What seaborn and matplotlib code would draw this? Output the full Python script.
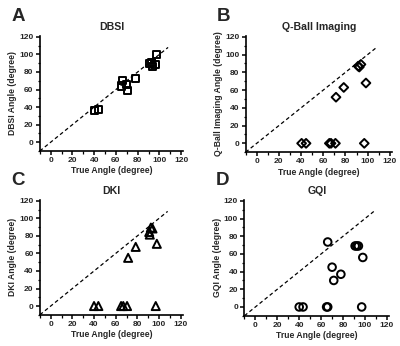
import numpy as np
import pandas as pd
import matplotlib
matplotlib.use("Agg")
import matplotlib.pyplot as plt
import seaborn as sns
from matplotlib.ticker import MultipleLocator

sns.set_style("ticks")
plt.rcParams['font.family'] = ['Liberation Sans', 'DejaVu Sans']
plt.rcParams['font.weight'] = 'bold'

# --- data ---
dbsi_true = [40, 44, 65, 66, 70, 71, 78, 91, 92.5, 94, 96, 97.5]
dbsi_est  = [36, 37.5, 64, 70, 66, 59, 73, 90, 91, 86, 89, 99.5]

qbi_true = [40.5, 44.5, 65.5, 67, 71, 97, 71.5, 78.5, 91.5, 92.5, 94, 98.5]
qbi_est  = [0, 0, 0, 0, 0, 0, 52, 63, 87, 86, 89, 68]

dki_true = [40, 44, 65, 67, 70.5, 97, 71.5, 78.5, 91, 91.5, 92.5, 94, 98]
dki_est  = [0, 0, 0, 0, 0, 0, 55, 67.5, 84.5, 81.5, 89.5, 88.5, 71]

gqi_true = [40, 43.5, 65, 66, 97, 66, 70, 71.5, 78, 91, 92.5, 94, 98]
gqi_est  = [0, 0, 0, 0, 0, 73.5, 45, 30, 37, 69, 69, 69, 56]

panels = [
    ("A", "DBSI", "DBSI Angle (degree)", dbsi_true, dbsi_est, "s", 26),
    ("B", "Q-Ball Imaging", "Q-Ball Imaging Angle (degree)", qbi_true, qbi_est, "D", 20),
    ("C", "DKI", "DKI Angle (degree)", dki_true, dki_est, "^", 34),
    ("D", "GQI", "GQI Angle (degree)", gqi_true, gqi_est, "o", 30),
]

W, H = 400, 346
fig = plt.figure(figsize=(W / 100, H / 100), dpi=100)

# axes boxes in pixels: left, right, top, bottom
boxes = [
    (39.8, 183.3, 36.0, 151.0),
    (245.6, 392.0, 36.0, 152.2),
    (39.9, 182.8, 200.0, 314.8),
    (244.4, 389.1, 200.0, 315.8),
]

for (letter, title, ylabel, xt, ye, mk, sz), (l, r, t, b) in zip(panels, boxes):
    ax = fig.add_axes([l / W, (H - b) / H, (r - l) / W, (b - t) / H])
    df = pd.DataFrame({"true": xt, "est": ye})
    ax.plot([-10, 108], [-10, 108], color="black", lw=0.9, ls=(0, (3, 2.2)))
    sns.scatterplot(data=df, x="true", y="est", marker=mk, s=sz,
                    facecolor="none", edgecolor="black", linewidth=1.4,
                    ax=ax, zorder=3, clip_on=False)
    ax.set_xlim(-10, 122)
    ax.set_ylim(-10, 121)
    ax.set_xticks(range(0, 121, 20))
    ax.set_yticks(range(0, 121, 20))
    ax.xaxis.set_minor_locator(MultipleLocator(10))
    ax.yaxis.set_minor_locator(MultipleLocator(10))
    ax.tick_params(which="major", length=3, width=1.1, direction="out",
                   labelsize=6.0, pad=1.5, color="black")
    ax.tick_params(which="minor", length=1.8, width=0.9, direction="out", color="black")
    for lab in ax.get_xticklabels() + ax.get_yticklabels():
        lab.set_fontweight("bold")
    sns.despine(ax=ax)
    for s in ("left", "bottom"):
        ax.spines[s].set_linewidth(1.2)
        ax.spines[s].set_color("black")
    ax.set_xlabel("True Angle (degree)", fontsize=6.2, fontweight="bold", labelpad=1.5)
    ax.set_ylabel(ylabel, fontsize=6.2, fontweight="bold", labelpad=1.5)
    ax.set_title(title, fontsize=7.6, fontweight="bold", pad=4.5)
    ax.text(-0.2, 1.17, letter, transform=ax.transAxes, fontsize=13.5,
            fontweight="bold", ha="left", va="center")

fig.savefig("out.png", dpi=100, facecolor="white")
